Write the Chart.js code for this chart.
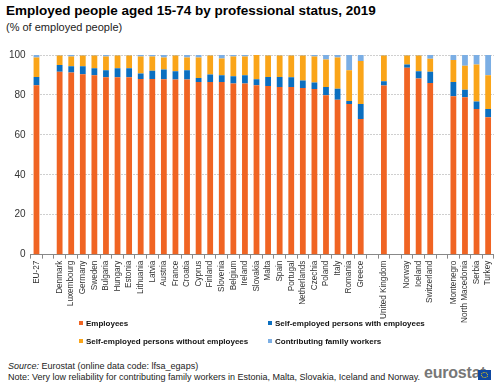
<!DOCTYPE html>
<html>
<head>
<meta charset="utf-8">
<script src="https://cdn.jsdelivr.net/npm/chart.js@4"></script>
<style>
  body { margin: 0; width: 500px; height: 390px; background: #fff; font-family: "Liberation Sans", Arial, sans-serif; position: relative; overflow: hidden; }
  .title { position: absolute; left: 6px; top: 3px; font-size: 13.5px; font-weight: bold; color: #000; }
  .sub { position: absolute; left: 6px; top: 21px; font-size: 11px; color: #222; }
  #wrap { position: absolute; left: 0; top: 44px; width: 500px; height: 281px; }
  .leg { position: absolute; font-size: 8px; font-weight: bold; color: #111; white-space: nowrap; }
  .leg i { display: inline-block; width: 4px; height: 4px; margin-right: 3px; vertical-align: 1px; }
  .foot { position: absolute; left: 8px; font-size: 9px; color: #222; white-space: nowrap; }
  .logo { position: absolute; left: 424px; top: 364px; font-size: 16px; font-weight: bold; color: #777; letter-spacing: -0.2px; }
  .flag { position: absolute; left: 478px; top: 370px; width: 13px; height: 10px; background: #0e47a1; }
  .flag::after { content: ""; position: absolute; left: 3px; top: 2px; width: 5px; height: 4px; border: 1px dotted #ffd600; border-radius: 50%; }
</style>
</head>
<body>
<div class="title">Employed people aged 15-74 by professional status, 2019</div>
<div class="sub">(% of employed  people)</div>
<div id="wrap"><canvas id="chart"></canvas></div>

<div class="leg" style="left:79px;top:319px"><i style="background:#F06423"></i>Employees</div>
<div class="leg" style="left:268px;top:319px"><i style="background:#0B6FC0"></i>Self-employed persons with employees</div>
<div class="leg" style="left:79px;top:337px"><i style="background:#FAA519"></i>Self-employed persons without employees</div>
<div class="leg" style="left:268px;top:337px"><i style="background:#7BAEE4"></i>Contributing family workers</div>

<div class="foot" style="top:361px"><i>Source:</i> Eurostat (online data code: lfsa_egaps)</div>
<div class="foot" style="top:372px">Note: Very low reliability for contributing family workers in Estonia, Malta, Slovakia, Iceland and Norway.</div>
<div class="logo">eurostat</div>
<div class="flag"></div>

<script>
const countries = ['EU-27', '', 'Denmark', 'Luxembourg', 'Germany', 'Sweden', 'Bulgaria', 'Hungary', 'Estonia',
  'Lithuania', 'Latvia', 'Austria', 'France', 'Croatia', 'Cyprus', 'Finland', 'Slovenia', 'Belgium', 'Ireland',
  'Slovakia', 'Malta', 'Spain', 'Portugal', 'Netherlands', 'Czechia', 'Poland', 'Italy', 'Romania', 'Greece', '',
  'United Kingdom', '', 'Norway', 'Iceland', 'Switzerland', '', 'Montenegro', 'North Macedonia', 'Serbia', 'Turkey'];

const employees = [84.9, null, 91.6, 91.2, 90.4, 89.9, 88.9, 88.9, 88.9,
  88.0, 88.0, 87.9, 87.7, 87.7, 86.5, 86.5, 86.5, 85.7, 85.7,
  84.8, 84.5, 84.0, 84.0, 83.5, 83.0, 79.8, 77.6, 75.5, 68.0, null,
  84.7, null, 93.6, 88.2, 86.0, null, 79.4, 78.9, 73.0, 68.8];

const withEmployees = [4.1, null, 3.4, 3.2, 4.0, 3.5, 3.5, 4.5, 4.5,
  2.7, 4.1, 4.8, 4.2, 4.7, 2.0, 3.7, 3.4, 3.7, 4.2,
  3.1, 4.5, 5.0, 4.9, 3.7, 3.2, 4.2, 5.5, 1.4, 7.5, null,
  2.1, null, 1.7, 3.7, 5.6, null, 7.1, 3.7, 3.7, 4.2];

const withoutEmployees = [9.8, null, 4.7, 4.8, 5.3, 6.3, 6.8, 6.3, 6.3,
  8.5, 7.2, 6.1, 7.8, 6.4, 10.3, 9.5, 8.4, 9.8, 9.3,
  12.1, 10.7, 10.7, 10.8, 12.5, 13.0, 13.8, 15.7, 15.5, 21.5, null,
  12.9, null, 4.4, 7.8, 6.5, null, 11.0, 12.0, 18.6, 16.9];

const familyWorkers = [1.2, null, 0.3, 0.8, 0.3, 0.3, 0.8, 0.3, 0.3,
  0.8, 0.7, 1.2, 0.3, 1.2, 1.2, 0.3, 1.7, 0.8, 0.8,
  0.0, 0.3, 0.3, 0.3, 0.3, 0.8, 2.2, 1.2, 7.6, 3.0, null,
  0.3, null, 0.3, 0.3, 1.9, null, 2.5, 5.4, 4.7, 10.1];

const yTicks = [0, 20, 40, 60, 80, 100];

const series = [
  { label: 'Employees', data: employees, color: '#F06423' },
  { label: 'Self-employed persons with employees', data: withEmployees, color: '#0B6FC0' },
  { label: 'Self-employed persons without employees', data: withoutEmployees, color: '#FAA519' },
  { label: 'Contributing family workers', data: familyWorkers, color: '#7BAEE4' }
];

new Chart(document.getElementById('chart'), {
  type: 'bar',
  data: {
    labels: countries,
    datasets: series.map(s => ({
      label: s.label,
      data: s.data,
      backgroundColor: s.color,
      barPercentage: 0.5,
      categoryPercentage: 1
    }))
  },
  options: {
    responsive: true,
    maintainAspectRatio: false,
    animation: false,
    layout: { padding: { left: 4, right: 3, top: 5, bottom: 0 } },
    plugins: { legend: { display: false }, tooltip: { enabled: false } },
    scales: {
      x: {
        stacked: true,
        grid: { display: true, drawOnChartArea: false, offset: true, tickLength: 4, color: '#888' },
        border: { display: true, color: '#888' },
        ticks: {
          autoSkip: false, maxRotation: 90, minRotation: 90, padding: 2,
          color: '#333', font: { family: 'Liberation Sans, Arial', size: 8.2 }
        }
      },
      y: {
        stacked: true,
        min: 0, max: 100,
        afterBuildTicks: axis => { axis.ticks = yTicks.map(v => ({ value: v })); },
        grid: { color: '#cfcfcf', drawTicks: false },
        border: { display: false, dash: [2, 1] },
        ticks: { padding: 5, color: '#333', font: { family: 'Liberation Sans, Arial', size: 10 } }
      }
    }
  }
});
</script>
</body>
</html>
